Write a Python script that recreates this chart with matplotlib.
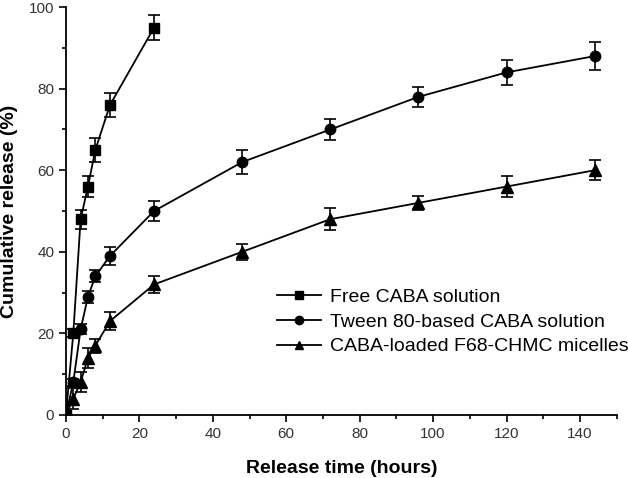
import matplotlib
matplotlib.use("Agg")
import matplotlib.pyplot as plt
from matplotlib.lines import Line2D
from matplotlib.ticker import MultipleLocator

plt.rcParams['font.family'] = ['Liberation Sans', 'DejaVu Sans']

# release data (time in hours, cumulative release in %)
time_free = [0, 2, 4, 6, 8, 12, 24]
free_caba = [0, 20, 48, 56, 65, 76, 95]
free_err = [0, 1.0, 2.3, 2.5, 3.0, 2.9, 3.0]

time_long = [0, 2, 4, 6, 8, 12, 24, 48, 72, 96, 120, 144]
tween = [0, 8, 21, 29, 34, 39, 50, 62, 70, 78, 84, 88]
tween_err = [0, 0.8, 1.2, 1.5, 1.5, 2.3, 2.5, 3.0, 2.6, 2.5, 3.0, 3.5]
micelles = [0, 4, 8, 14, 17, 23, 32, 40, 48, 52, 56, 60]
micelles_err = [0, 2.5, 2.5, 2.5, 1.7, 2.2, 2.0, 2.0, 2.7, 1.8, 2.5, 2.5]

labels = ['Free CABA solution', 'Tween 80-based CABA solution',
          'CABA-loaded F68-CHMC micelles']
markers = ['s', 'o', '^']

fig = plt.figure(figsize=(6.28, 4.78), dpi=100)
ax = fig.add_axes([0.105, 0.132, 0.877, 0.853])

ebkw = dict(color='black', lw=1.3, capsize=4, capthick=1.2, elinewidth=1.2)
ax.errorbar(time_free, free_caba, yerr=free_err, marker='s', ms=7.5, **ebkw)
ax.errorbar(time_long, tween, yerr=tween_err, marker='o', ms=7.5, **ebkw)
ax.errorbar(time_long, micelles, yerr=micelles_err, marker='^', ms=8.5, **ebkw)

ax.set_xlim(0, 150)
ax.set_ylim(0, 100)
ax.xaxis.set_major_locator(MultipleLocator(20))
ax.xaxis.set_minor_locator(MultipleLocator(10))
ax.yaxis.set_major_locator(MultipleLocator(20))
ax.yaxis.set_minor_locator(MultipleLocator(10))
ax.tick_params(which='major', direction='out', length=5, width=1.2, labelsize=11,
               labelcolor='#333333')
ax.tick_params(which='minor', direction='out', length=3, width=1.2)
for s in ['top', 'right']:
    ax.spines[s].set_visible(False)
for s in ['left', 'bottom']:
    ax.spines[s].set_linewidth(1.3)

ax.set_xlabel('Release time (hours)', fontsize=14, fontweight='bold', labelpad=14)
ax.set_ylabel('Cumulative release (%)', fontsize=14, fontweight='bold', labelpad=8)

# legend handles without error bars, as in the original
handles = [Line2D([], [], color='black', lw=1.3, marker=m, ms=6) for m in markers]
ax.legend(handles, labels, loc='upper left', bbox_to_anchor=(0.383, 0.31),
          frameon=False, fontsize=14, handlelength=2.25, handletextpad=0.5,
          labelspacing=0.36, borderpad=0, borderaxespad=0)

fig.savefig('out.png', dpi=100)
